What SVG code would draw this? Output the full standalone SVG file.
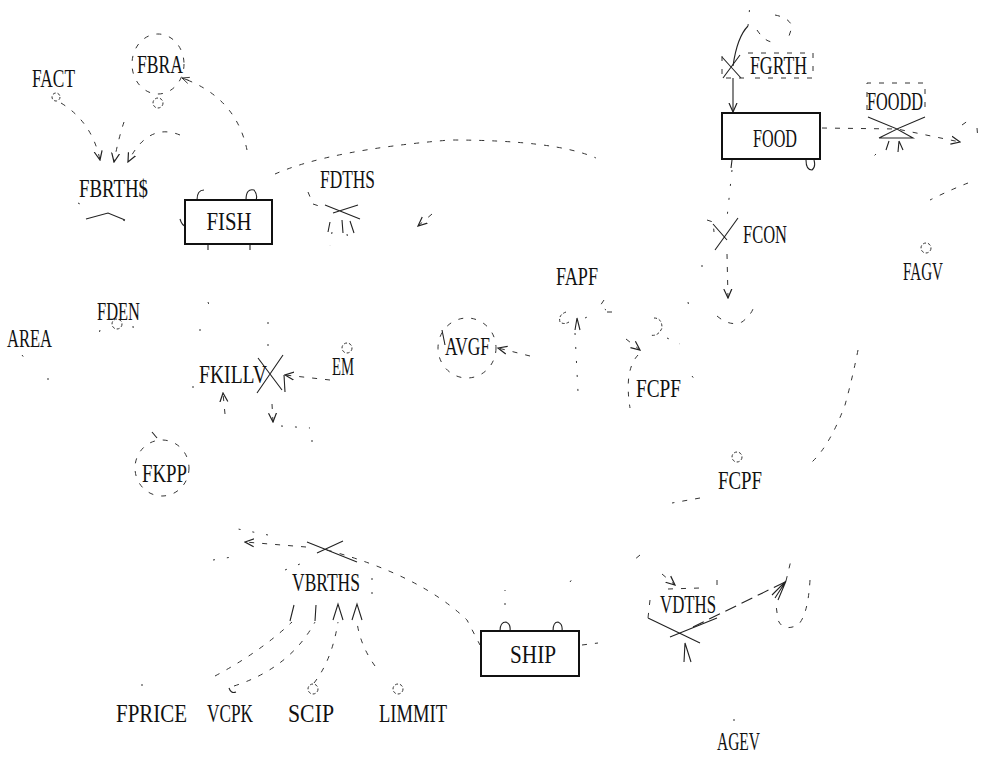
<svg xmlns="http://www.w3.org/2000/svg" width="981" height="759" viewBox="0 0 981 759">
<defs>
<marker id="ah" viewBox="0 0 10 10" refX="9" refY="5" markerWidth="10" markerHeight="10" markerUnits="userSpaceOnUse" orient="auto">
<path d="M0,1 L9,5 L0,9" fill="none" stroke="#222" stroke-width="1.2"/>
</marker>
<marker id="ahs" viewBox="0 0 10 10" refX="9" refY="5" markerWidth="8" markerHeight="8" markerUnits="userSpaceOnUse" orient="auto">
<path d="M0,1 L9,5 L0,9 M9,5 L0,5" fill="none" stroke="#222" stroke-width="1"/>
</marker>
</defs>
<style>
text{font-family:"Liberation Serif","DejaVu Serif",serif;font-size:26px;fill:#111;}
.d{fill:none;stroke:#333;stroke-width:1;stroke-dasharray:5 8;}
.dd{fill:none;stroke:#333;stroke-width:1;stroke-dasharray:2 12;}
.s{fill:none;stroke:#222;stroke-width:1.1;}
.box{fill:#fff;stroke:#111;stroke-width:2;}
.c{fill:none;stroke:#333;stroke-width:1;stroke-dasharray:3 2;}
</style>
<rect width="981" height="759" fill="#fff"/>

<g id="connectors">
<path class="d" d="M61,103 Q92,122 100,160" marker-end="url(#ah)"/>
<path class="d" d="M124,122 Q118,140 114,162" marker-end="url(#ah)"/>
<path class="d" d="M180,135 Q148,122 128,162" marker-end="url(#ah)"/>
<path class="d" d="M247,150 Q236,97 182,78" marker-end="url(#ahs)"/>
<path class="d" d="M275,174 Q330,150 450,140 Q555,140 596,158"/>
<path class="d" d="M432,214 L418,226" marker-end="url(#ah)"/>
<path class="s" d="M197,200 Q197,190 204,190 M246,200 Q246,188 254,190 Q258,195 256,200"/>
<path class="s" d="M180,219 Q182,226 186,226 M208,244 L208,250 M250,244 L250,250"/>
<path class="s" d="M86,219 L108,213 L125,220"/>
<path class="dd" d="M78,203 L82,205 M123,220 L128,222"/>
<path class="s" d="M325,205 L360,219 M333,213 L358,205"/>
<path class="d" d="M308,192 L313,204 L322,207"/>
<path class="s" d="M330,222 L328,232 M342,220 L343,233 M350,221 L354,233"/>
<path class="dd" d="M332,232 L330,246 M347,234 L349,246"/>
<ellipse class="d" cx="158" cy="64" rx="26" ry="30"/>
<circle class="c" cx="158" cy="103" r="5"/>
<circle class="c" cx="56" cy="97" r="4"/>

<path class="s" d="M722,57 L741,78 M723,78 L740,55"/>
<path class="d" d="M722,56 L722,78 L748,78 M748,53 L813,53 L813,78 L748,78"/>
<path class="s" d="M733,66 C736,45 742,32 748,26" />
<path class="dd" d="M748,26 L750,4"/>
<path class="d" d="M757,30 Q765,42 773,42 M775,15 Q790,18 792,27 L787,42"/>
<path class="s" d="M733,78 L733,112" marker-end="url(#ah)"/>
<path class="d" d="M822,128 L897,129 L960,142" marker-end="url(#ah)"/>
<path class="d" d="M962,125 L972,118 M977,128 L978,140"/>
<path class="s" d="M868,117 L897,129 L925,117 M879,138 L897,129 L913,138 L879,138"/>
<path class="d" d="M867,110 L867,83 L925,83 L925,110"/>
<path class="s" d="M886,150 L889,141 M898,152 L899,141 M903,150 L899,141"/>
<path class="dd" d="M876,154 L872,158"/>
<path class="s" d="M732,160 L731,168 M806,160 Q806,170 812,170 Q816,167 814,160"/>
<path class="dd" d="M732,170 L727,218"/>
<path class="s" d="M713,224 L727,240 M715,250 L738,218"/>
<path class="d" d="M707,220 L713,222 L714,232"/>
<path class="d" d="M727,254 L728,298" marker-end="url(#ah)"/>
<path class="d" d="M717,316 Q730,327 742,322 Q755,312 754,302"/>
<path class="d" d="M968,183 Q950,190 930,200 M858,350 Q852,380 845,405 Q830,445 812,462"/>
<circle class="c" cx="926" cy="248" r="5"/>
<path class="d" d="M626,339 L640,350" marker-end="url(#ah)"/>
<path class="d" d="M638,355 Q624,370 630,408"/>
<path class="c" d="M654,318 Q662,318 662,328 Q658,337 650,335"/>
<path class="dd" d="M667,338 L680,344 M692,376 L698,384"/>
<path class="dd" d="M688,302 L690,312 M702,265 L702,275"/>
<circle class="c" cx="737" cy="457" r="5"/>
<path class="d" d="M700,498 L672,503 M640,555 L634,560"/>
<path class="c" d="M566,312 Q558,315 560,322 Q564,325 569,322"/>
<path class="s" d="M575,330 L577,318 L580,330"/>
<path class="d" d="M604,300 L600,306 L606,310 M612,312 L606,312"/>
<path class="dd" d="M575,333 L578,392"/>
<path class="dd" d="M585,318 L594,314"/>
<ellipse class="d" cx="467" cy="348" rx="29" ry="30"/>
<path class="d" d="M530,356 L498,348" marker-end="url(#ah)"/>
<path class="s" d="M442,330 L445,345"/>
<circle class="c" cx="347" cy="348" r="5"/>
<path class="d" d="M330,380 L285,375" marker-end="url(#ah)"/>
<path class="s" d="M258,358 L282,390 M257,393 L283,355"/>
<path class="s" d="M284,375 L285,392"/>
<path class="d" d="M225,414 L223,393" marker-end="url(#ah)"/>
<path class="d" d="M272,404 L273,422" marker-end="url(#ah)"/>
<path class="dd" d="M281,426 L310,428 M312,440 L312,445"/>
<path class="dd" d="M208,302 L209,305 M268,322 L268,325 M200,329 L200,332 M268,344 L268,347 M193,386 L193,389"/>
<circle class="c" cx="117" cy="324" r="5"/>
<path class="dd" d="M100,330 L98,338 M133,326 L134,338"/>
<path class="dd" d="M22,355 L28,363 M48,378 L48,381"/>
<ellipse class="d" cx="162" cy="468" rx="27" ry="28"/>
<path class="s" d="M152,432 L157,438"/>
<path class="s" d="M307,542 L357,562 M317,553 L343,541"/>
<path class="d" d="M327,550 Q420,575 467,620 L480,645"/>
<path class="d" d="M306,547 L245,542" marker-end="url(#ah)"/>
<path class="dd" d="M268,535 L233,528 M213,560 L232,557"/>
<path class="dd" d="M285,570 L305,562 M372,578 L372,600"/>
<path class="s" d="M290,621 L294,605 M315,621 L316,605 M333,620 L338,604 L343,620 M352,620 L357,604 L362,620"/>
<path class="d" d="M215,676 Q260,652 292,622"/>
<path class="d" d="M234,686 Q290,668 315,622"/>
<path class="d" d="M314,683 Q332,660 338,622"/>
<path class="d" d="M375,666 Q360,645 357,622"/>
<path class="dd" d="M142,684 L142,690"/>
<path class="s" d="M229,688 Q231,694 236,692"/>
<circle class="c" cx="313" cy="689" r="5"/>
<circle class="c" cx="398" cy="689" r="5"/>
<path class="s" d="M500,631 Q500,622 506,622 Q511,624 510,631 M553,631 Q553,622 558,622 Q563,624 562,631"/>
<path class="dd" d="M505,605 L505,590 M570,582 L575,575"/>
<path class="d" d="M582,645 L598,643"/>
<path class="s" d="M648,618 L700,643 M670,637 L717,618"/>
<path class="d" d="M662,574 L675,585" marker-end="url(#ah)"/>
<path class="d" d="M668,589 L700,588 M717,580 L717,590 M650,600 L648,618"/>
<path class="s" d="M693,627 L785,582" stroke-dasharray="12 6"/>
<path class="s" d="M772,595 L786,581 M775,598 L786,581 M778,600 L786,581"/>
<path class="d" d="M786,581 L792,556"/>
<path class="d" d="M810,580 Q808,615 798,625 Q783,632 778,620 L776,605"/>
<path class="s" d="M684,662 L685,643 L691,662"/>
<path class="dd" d="M733,720 L737,720"/>
</g>

<g id="FISH"><rect class="box" x="185" y="200" width="87" height="44"/><text x="229" y="230" text-anchor="middle" textLength="45" lengthAdjust="spacingAndGlyphs">FISH</text></g>
<g id="FOOD"><rect class="box" x="722" y="113" width="98" height="46"/><text x="775" y="147" text-anchor="middle" textLength="44" lengthAdjust="spacingAndGlyphs">FOOD</text></g>
<g id="SHIP"><rect class="box" x="481" y="631" width="98" height="45"/><text x="533" y="663" text-anchor="middle" textLength="46" lengthAdjust="spacingAndGlyphs">SHIP</text></g>

<g id="FACT"><text x="32" y="87" textLength="43" lengthAdjust="spacingAndGlyphs">FACT</text></g>
<g id="FBRA"><text x="137" y="73" textLength="46" lengthAdjust="spacingAndGlyphs">FBRA</text></g>
<g id="FBRTHS"><text x="79" y="197" textLength="69" lengthAdjust="spacingAndGlyphs">FBRTH$</text></g>
<g id="FDTHS"><text x="320" y="188" textLength="55" lengthAdjust="spacingAndGlyphs">FDTHS</text></g>
<g id="FGRTH"><text x="750" y="74" textLength="57" lengthAdjust="spacingAndGlyphs">FGRTH</text></g>
<g id="FOODD"><text x="867" y="110" textLength="56" lengthAdjust="spacingAndGlyphs">FOODD</text></g>
<g id="FCON"><text x="743" y="243" textLength="44" lengthAdjust="spacingAndGlyphs">FCON</text></g>
<g id="FAGV"><text x="903" y="280" textLength="40" lengthAdjust="spacingAndGlyphs">FAGV</text></g>
<g id="FAPF"><text x="556" y="285" textLength="42" lengthAdjust="spacingAndGlyphs">FAPF</text></g>
<g id="AVGF"><text x="445" y="355" textLength="45" lengthAdjust="spacingAndGlyphs">AVGF</text></g>
<g id="EM"><text x="332" y="375" textLength="22" lengthAdjust="spacingAndGlyphs">EM</text></g>
<g id="FCPF1"><text x="636" y="397" textLength="45" lengthAdjust="spacingAndGlyphs">FCPF</text></g>
<g id="FCPF2"><text x="718" y="489" textLength="44" lengthAdjust="spacingAndGlyphs">FCPF</text></g>
<g id="FDEN"><text x="97" y="320" textLength="43" lengthAdjust="spacingAndGlyphs">FDEN</text></g>
<g id="AREA"><text x="7" y="347" textLength="45" lengthAdjust="spacingAndGlyphs">AREA</text></g>
<g id="FKILLV"><text x="199" y="383" textLength="68" lengthAdjust="spacingAndGlyphs">FKILLV</text></g>
<g id="FKPP"><text x="142" y="482" textLength="45" lengthAdjust="spacingAndGlyphs">FKPP</text></g>
<g id="VBRTHS"><text x="292" y="591" textLength="68" lengthAdjust="spacingAndGlyphs">VBRTHS</text></g>
<g id="VDTHS"><text x="660" y="613" textLength="56" lengthAdjust="spacingAndGlyphs">VDTHS</text></g>
<g id="FPRICE"><text x="116" y="722" textLength="71" lengthAdjust="spacingAndGlyphs">FPRICE</text></g>
<g id="VCPK"><text x="207" y="722" textLength="46" lengthAdjust="spacingAndGlyphs">VCPK</text></g>
<g id="SCIP"><text x="288" y="722" textLength="46" lengthAdjust="spacingAndGlyphs">SCIP</text></g>
<g id="LIMMIT"><text x="379" y="722" textLength="68" lengthAdjust="spacingAndGlyphs">LIMMIT</text></g>
<g id="AGEV"><text x="717" y="750" font-size="24" textLength="43" lengthAdjust="spacingAndGlyphs">AGEV</text></g>
</svg>
